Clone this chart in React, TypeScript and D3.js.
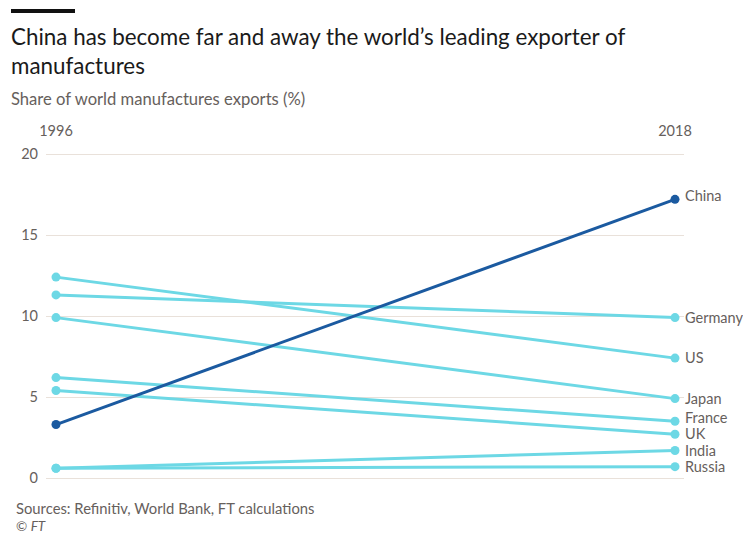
import React, { useEffect, useRef } from "react";
import * as d3 from "d3";

const countries = ["China", "Germany", "US", "Japan", "France", "UK", "India", "Russia"];
const share1996 = [3.3, 11.3, 12.4, 9.9, 6.2, 5.4, 0.6, 0.6];
const share2018 = [17.2, 9.9, 7.4, 4.9, 3.5, 2.7, 1.7, 0.7];
const years = ["1996", "2018"];
const yTicks = [0, 5, 10, 15, 20];

const W = 743;
const H = 533;
const FONT = "Lato, 'Open Sans', sans-serif";
const TEXT = "#66605c";
const CYAN = "#6dd8e5";
const NAVY = "#1b5aa0";

const App: React.FC = () => {
  const ref = useRef<SVGSVGElement | null>(null);

  useEffect(() => {
    if (!ref.current) return;
    const svg = d3.select(ref.current);
    svg.selectAll("*").remove();

    // header
    svg.append("rect").attr("x", 11).attr("y", 9).attr("width", 64).attr("height", 4).attr("fill", "#111");
    const title = svg.append("text").attr("font-family", FONT).attr("font-size", 22.4).attr("fill", "#1a1a1a");
    title.append("tspan").attr("x", 11).attr("y", 45).text("China has become far and away the world\u2019s leading exporter of");
    title.append("tspan").attr("x", 11).attr("y", 74).text("manufactures");
    svg.append("text").attr("x", 11).attr("y", 105).attr("font-family", FONT).attr("font-size", 16.6)
      .attr("fill", TEXT).text("Share of world manufactures exports (%)");

    const x = d3.scalePoint<string>().domain(years).range([56, 675]);
    const y = d3.scaleLinear().domain([0, 20]).range([478, 154]);

    const g = svg.append("g");

    // gridlines + y labels
    const grid = g.append("g").call(
      d3.axisLeft(y).tickValues(yTicks).tickSize(-(684 - 46)).tickPadding(8)
    ).attr("transform", "translate(46,0)");
    grid.select(".domain").remove();
    grid.selectAll(".tick line").attr("stroke", "#e9e1da").attr("stroke-width", 1);
    grid.selectAll(".tick text").attr("font-family", FONT).attr("font-size", 14.5).attr("fill", TEXT);

    // year labels
    g.selectAll("text.year").data(years).join("text").attr("class", "year")
      .attr("x", (d) => x(d)!).attr("y", 136).attr("text-anchor", "middle")
      .attr("font-family", FONT).attr("font-size", 14.5).attr("fill", TEXT).text((d) => d);

    const rows = countries.map((c, i) => ({ c, a: share1996[i], b: share2018[i] }));
    // China on top
    const ordered = [...rows.filter((r) => r.c !== "China"), ...rows.filter((r) => r.c === "China")];

    ordered.forEach((r) => {
      const col = r.c === "China" ? NAVY : CYAN;
      g.append("line")
        .attr("x1", x(years[0])!).attr("y1", y(r.a))
        .attr("x2", x(years[1])!).attr("y2", y(r.b))
        .attr("stroke", col).attr("stroke-width", 3);
      [[years[0], r.a], [years[1], r.b]].forEach(([yr, v]) => {
        g.append("circle").attr("cx", x(yr as string)!).attr("cy", y(v as number)).attr("r", 4.5).attr("fill", col);
      });
      const nudge = r.c === "France" ? -3 : r.c === "China" ? -3 : 0;
      g.append("text").attr("x", 685).attr("y", y(r.b) + nudge).attr("dy", "0.35em")
        .attr("font-family", FONT).attr("font-size", 14.5).attr("fill", TEXT).text(r.c);
    });

    // footer
    svg.append("text").attr("x", 16).attr("y", 514).attr("font-family", FONT).attr("font-size", 14.8)
      .attr("fill", TEXT).text("Sources: Refinitiv, World Bank, FT calculations");
    svg.append("text").attr("x", 16).attr("y", 531).attr("font-family", FONT).attr("font-size", 13.5)
      .attr("fill", TEXT).text("\u00a9 ").append("tspan").attr("font-style", "italic").text("FT");
  }, []);

  return (
    <svg ref={ref} width={W} height={H} style={{ position: "absolute", left: 0, top: 0, background: "#fff" }} />
  );
};

export default App;
